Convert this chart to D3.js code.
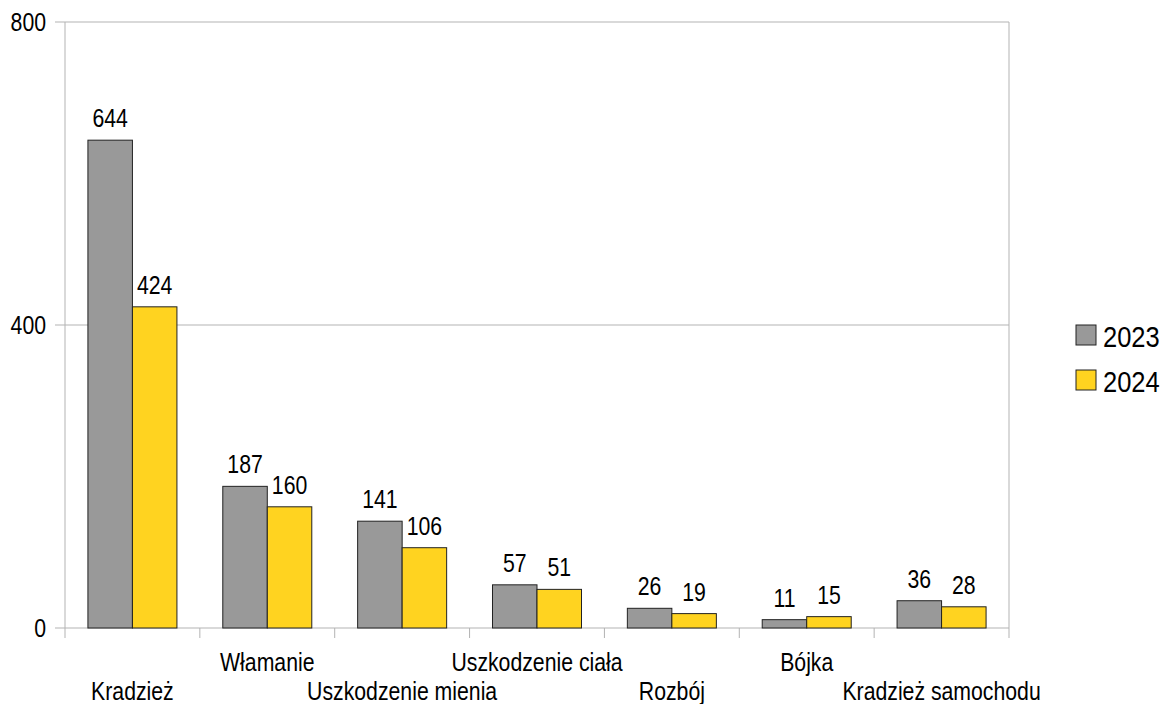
<!DOCTYPE html>
<html>
<head>
<meta charset="utf-8">
<script src="https://cdn.jsdelivr.net/npm/d3@7"></script>
<style>
  body { margin: 0; background: #fff; }
  text { font-family: "Liberation Sans Narrow", "Liberation Sans", Arial, sans-serif; fill: #000; }
</style>
</head>
<body>
<script>
'use strict'

var categories = ["Kradzież", "Włamanie", "Uszkodzenie mienia", "Uszkodzenie ciała", "Rozbój", "Bójka", "Kradzież samochodu"]
var series = ["2023", "2024"]
var values2023 = [644, 187, 141, 57, 26, 11, 36]
var values2024 = [424, 160, 106, 51, 19, 15, 28]
var yTicks = [0, 400, 800]
var colors = ["#999999", "#ffd320"]

var width = 1163
var height = 704
var margin = { left: 65, right: 154, top: 22, bottom: 76 }
var narrow = 0.85

var svg = d3.select("body").append("svg")
  .attr("width", width)
  .attr("height", height)

// text squeezed sideways to look like the narrow face of the original
function place(px, py) {
  return "translate(" + px + "," + py + ") scale(" + narrow + ",1)"
}

var x = d3.scaleBand()
  .domain(categories)
  .range([margin.left, width - margin.right])

var x1 = d3.scaleBand()
  .domain(series)
  .range([0, x.bandwidth() * 0.66])

var y = d3.scaleLinear()
  .domain([0, 800])
  .range([height - margin.bottom, margin.top])

// grid
svg.append("g").selectAll("line")
  .data(yTicks)
  .enter().append("line")
  .attr("x1", margin.left - 10)
  .attr("x2", width - margin.right)
  .attr("y1", d => y(d))
  .attr("y2", d => y(d))
  .attr("stroke", "#b3b3b3")
  .attr("stroke-width", 1)

// axes lines
svg.append("line")
  .attr("x1", margin.left).attr("x2", margin.left)
  .attr("y1", y(800)).attr("y2", y(0))
  .attr("stroke", "#b3b3b3")
svg.append("line")
  .attr("x1", width - margin.right).attr("x2", width - margin.right)
  .attr("y1", y(800)).attr("y2", y(0))
  .attr("stroke", "#b3b3b3")

var bounds = categories.map(c => x(c)).concat([width - margin.right])
svg.append("g").selectAll("line")
  .data(bounds)
  .enter().append("line")
  .attr("x1", d => d).attr("x2", d => d)
  .attr("y1", y(0)).attr("y2", y(0) + 10)
  .attr("stroke", "#b3b3b3")

// y labels
svg.append("g").selectAll("text")
  .data(yTicks)
  .enter().append("text")
  .attr("transform", d => place(46, y(d) + 9))
  .attr("text-anchor", "end")
  .style("font-size", "25px")
  .text(d => d)

// bars
var rows = categories.map((c, i) => ({ cat: c, vals: [values2023[i], values2024[i]] }))
var groups = svg.append("g").selectAll("g")
  .data(rows)
  .enter().append("g")
  .attr("transform", d => "translate(" + (x(d.cat) + x.bandwidth() * 0.17) + ",0)")

groups.selectAll("rect")
  .data(d => d.vals.map((v, j) => ({ s: series[j], v: v, j: j })))
  .enter().append("rect")
  .attr("x", d => x1(d.s))
  .attr("width", x1.bandwidth())
  .attr("y", d => y(d.v))
  .attr("height", d => y(0) - y(d.v))
  .attr("fill", d => colors[d.j])
  .attr("stroke", "#222")
  .attr("stroke-width", 1)

groups.selectAll("text")
  .data(d => d.vals.map((v, j) => ({ s: series[j], v: v })))
  .enter().append("text")
  .attr("transform", d => place(x1(d.s) + x1.bandwidth() / 2, y(d.v) - 13))
  .attr("text-anchor", "middle")
  .style("font-size", "25px")
  .text(d => d.v)

// category labels, staggered
svg.append("g").selectAll("text")
  .data(categories)
  .enter().append("text")
  .attr("transform", (d, i) => place(x(d) + x.bandwidth() / 2, i % 2 === 0 ? 700 : 671))
  .attr("text-anchor", "middle")
  .style("font-size", "25px")
  .text(d => d)

// legend
var legend = svg.append("g").selectAll("g")
  .data(series)
  .enter().append("g")
  .attr("transform", (d, i) => "translate(1076," + (325 + i * 45) + ")")
legend.append("rect")
  .attr("width", 20).attr("height", 20)
  .attr("fill", (d, i) => colors[i])
  .attr("stroke", "#222")
legend.append("text")
  .attr("transform", place(27, 22))
  .style("font-size", "30px")
  .text(d => d)
</script>
</body>
</html>
